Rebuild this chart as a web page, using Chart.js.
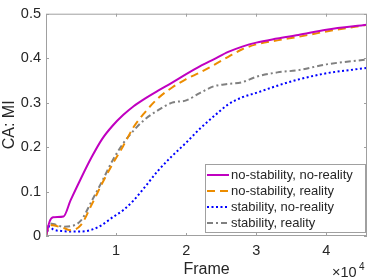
<!DOCTYPE html>
<html>
<head>
<meta charset="utf-8">
<script src="https://cdn.jsdelivr.net/npm/chart.js@4.4.1/dist/chart.umd.min.js"></script>
<style>
  html, body { margin: 0; padding: 0; background: #fff; }
  canvas { display: block; }
</style>
</head>
<body>
<canvas id="ca-chart" width="374" height="280"></canvas>
<script>
// values
const frames = [0, 500, 1000, 2500, 3500, 5000, 6500, 8000, 9500, 11000, 12500, 14000,
  16000, 18000, 20000, 22000, 24000, 26000, 28000, 30000, 33000, 36000, 40000, 45800];

const noStabNoReal = [0, 0.032, 0.042, 0.044, 0.08, 0.13, 0.177, 0.218, 0.248, 0.272, 0.292, 0.308,
  0.327, 0.345, 0.364, 0.382, 0.398, 0.414, 0.426, 0.435, 0.444, 0.452, 0.464, 0.475];
const noStabReal = [0, 0.025, 0.024, 0.018, 0.013, 0.025, 0.07, 0.118, 0.162, 0.202, 0.245, 0.276,
  0.31, 0.334, 0.353, 0.368, 0.385, 0.403, 0.42, 0.431, 0.44, 0.448, 0.46, 0.475];
const stabNoReal = [0, 0.022, 0.015, 0.011, 0.01, 0.01, 0.014, 0.025, 0.042, 0.058, 0.08, 0.108,
  0.147, 0.18, 0.21, 0.242, 0.27, 0.296, 0.312, 0.322, 0.338, 0.352, 0.366, 0.378];
const stabReal = [0, 0.028, 0.027, 0.021, 0.022, 0.035, 0.078, 0.123, 0.17, 0.208, 0.237, 0.261,
  0.283, 0.3, 0.305, 0.322, 0.337, 0.342, 0.346, 0.358, 0.368, 0.373, 0.386, 0.397];

const seriesLabels = ['no-stability, no-reality', 'no-stability, reality', 'stability, no-reality', 'stability, reality'];
const xTicks = [10000, 20000, 30000, 40000];
const yTicks = [0, 0.1, 0.2, 0.3, 0.4, 0.5];

const FONT = "'Liberation Sans', Arial, Helvetica, sans-serif";
const AXIS = '#a0a0a0';
const TEXT = '#262626';

Chart.defaults.font.family = FONT;

const pts = vals => frames.map((f, i) => ({ x: f, y: vals[i] }));

function line(label, vals, color, dash) {
  return {
    label,
    data: pts(vals),
    borderColor: color,
    backgroundColor: color,
    borderWidth: 2,
    borderDash: dash,
    borderCapStyle: 'butt',
    pointRadius: 0,
    cubicInterpolationMode: 'monotone',
    fill: false,
  };
}

// box, inside ticks, x10^4 and legend, matlab style
const matlabAxes = {
  id: 'matlabAxes',
  afterDraw(chart) {
    const { ctx, chartArea: a, scales: { x, y } } = chart;
    ctx.save();
    ctx.strokeStyle = AXIS;
    ctx.lineWidth = 1;
    ctx.strokeRect(a.left + 0.5, a.top + 0.5, a.right - a.left - 1, a.bottom - a.top - 1);
    ctx.beginPath();
    xTicks.forEach(v => {
      const px = Math.round(x.getPixelForValue(v)) + 0.5;
      ctx.moveTo(px, a.bottom); ctx.lineTo(px, a.bottom - 3);
      ctx.moveTo(px, a.top); ctx.lineTo(px, a.top + 3);
    });
    yTicks.forEach(v => {
      const py = Math.round(y.getPixelForValue(v)) + 0.5;
      ctx.moveTo(a.left, py); ctx.lineTo(a.left + 3, py);
      ctx.moveTo(a.right, py); ctx.lineTo(a.right - 3, py);
    });
    ctx.stroke();

    // exponent label
    ctx.fillStyle = TEXT;
    ctx.textBaseline = 'alphabetic';
    ctx.textAlign = 'left';
    ctx.font = '14.5px ' + FONT;
    ctx.fillText('\u00d710', 332, 277);
    ctx.font = '10px ' + FONT;
    ctx.fillText('4', 359, 270);

    // legend
    const bx = 205, by = 164, bw = 160, bh = 68;
    ctx.fillStyle = '#fff';
    ctx.fillRect(bx, by, bw, bh);
    ctx.strokeStyle = AXIS;
    ctx.strokeRect(bx + 0.5, by + 0.5, bw, bh);
    ctx.font = '13px ' + FONT;
    ctx.textBaseline = 'middle';
    chart.data.datasets.forEach((ds, i) => {
      const ry = by + 11 + i * 16;
      ctx.strokeStyle = ds.borderColor;
      ctx.lineWidth = ds.borderWidth;
      ctx.setLineDash(ds.borderDash || []);
      ctx.beginPath();
      ctx.moveTo(207, ry); ctx.lineTo(229, ry);
      ctx.stroke();
      ctx.setLineDash([]);
      ctx.fillStyle = TEXT;
      ctx.fillText(ds.label, 231, ry);
    });
    ctx.restore();
  },
};

new Chart(document.getElementById('ca-chart'), {
  type: 'line',
  data: {
    datasets: [
      line(seriesLabels[0], noStabNoReal, '#c000c0', []),
      line(seriesLabels[1], noStabReal, '#ec8c00', [8, 5]),
      line(seriesLabels[2], stabNoReal, '#0000ff', [2, 2.5]),
      line(seriesLabels[3], stabReal, '#808080', [6, 3, 2, 3]),
    ],
  },
  options: {
    responsive: false,
    animation: false,
    layout: { padding: { top: 12, right: 7, left: 0, bottom: 0 } },
    plugins: { legend: { display: false }, tooltip: { enabled: false } },
    scales: {
      x: {
        type: 'linear',
        min: 0,
        max: 45800,
        afterFit: s => { s.height = 44; },
        afterBuildTicks: s => { s.ticks = xTicks.map(v => ({ value: v })); },
        grid: { display: false, drawTicks: false },
        border: { display: false },
        ticks: {
          color: TEXT,
          font: { size: 14.5 },
          padding: 6,
          maxRotation: 0,
          callback: v => String(v / 10000),
        },
        title: {
          display: true,
          text: 'Frame',
          color: TEXT,
          font: { size: 16, lineHeight: 1.2 },
          padding: { top: 0, bottom: 1 },
        },
      },
      y: {
        min: 0,
        max: 0.5,
        afterFit: s => { s.width = 46; },
        afterBuildTicks: s => { s.ticks = yTicks.map(v => ({ value: v })); },
        grid: { display: false, drawTicks: false },
        border: { display: false },
        ticks: {
          color: TEXT,
          font: { size: 14.5 },
          padding: 5,
          callback: v => (v === 0 ? '0' : v.toFixed(1)),
        },
        title: {
          display: true,
          text: 'CA: MI',
          color: TEXT,
          font: { size: 16, lineHeight: 1.2 },
          padding: { top: 0, bottom: 0 },
        },
      },
    },
  },
  plugins: [matlabAxes],
});
</script>
</body>
</html>
